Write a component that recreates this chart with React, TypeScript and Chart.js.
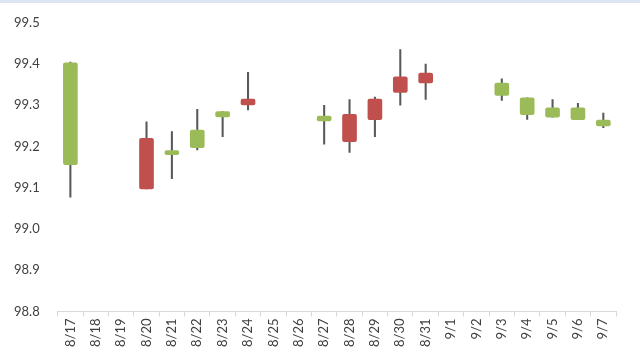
import React, { useEffect, useRef } from "react";
import { Chart, registerables } from "chart.js";

Chart.register(...registerables);

const categories = [
  "8/17", "8/18", "8/19", "8/20", "8/21", "8/22", "8/23", "8/24", "8/25", "8/26",
  "8/27", "8/28", "8/29", "8/30", "8/31", "9/1", "9/2", "9/3", "9/4", "9/5", "9/6", "9/7",
];
const openValues: (number | null)[] = [
  99.156, null, null, 99.22, 99.18, 99.197, 99.272, 99.315, null, null,
  99.262, 99.278, 99.315, 99.369, 99.378, null, null, 99.324, 99.277, 99.271, 99.265, 99.25,
];
const closeValues: (number | null)[] = [
  99.403, null, null, 99.097, 99.19, 99.24, 99.285, 99.301, null, null,
  99.274, 99.212, 99.265, 99.331, 99.354, null, null, 99.354, 99.318, 99.294, 99.294, 99.264,
];
const highValues: (number | null)[] = [
  99.405, null, null, 99.26, 99.236, 99.29, 99.285, 99.38, null, null,
  99.3, 99.314, 99.32, 99.435, 99.4, null, null, 99.364, 99.318, 99.314, 99.305, 99.281,
];
const lowValues: (number | null)[] = [
  99.077, null, null, 99.097, 99.122, 99.192, 99.224, 99.289, null, null,
  99.206, 99.186, 99.224, 99.3, 99.314, null, null, 99.312, 99.266, 99.271, 99.265, 99.246,
];
const yMin = 98.8;
const yMax = 99.5;
const yStep = 0.1;

const UP = "#9BBB59";
const DOWN = "#C0504D";

export default function App() {
  const ref = useRef<HTMLCanvasElement | null>(null);
  useEffect(() => {
    if (!ref.current) return;
    const bodies = categories.map((_, i) =>
      openValues[i] == null ? null : [openValues[i] as number, closeValues[i] as number]
    );
    const wicks = categories.map((_, i) =>
      highValues[i] == null ? null : [lowValues[i] as number, highValues[i] as number]
    );
    const colors = categories.map((_, i) =>
      openValues[i] != null && (closeValues[i] as number) >= (openValues[i] as number) ? UP : DOWN
    );
    const chart = new Chart(ref.current, {
      type: "bar",
      data: {
        labels: categories,
        datasets: [
          {
            data: bodies as any,
            backgroundColor: colors,
            borderColor: colors,
            borderWidth: 0,
            borderRadius: 2,
            borderSkipped: false,
            barThickness: 14,
            grouped: false,
            order: 0,
          },
          {
            data: wicks as any,
            backgroundColor: "#595959",
            borderWidth: 0,
            barThickness: 1.4,
            grouped: false,
            order: 1,
          },
        ],
      },
      options: {
        animation: false,
        responsive: false,
        maintainAspectRatio: false,
        layout: { padding: { left: 4, right: 24, top: 6, bottom: 4 } },
        plugins: { legend: { display: false }, tooltip: { enabled: false } },
        scales: {
          x: {
            offset: true,
            grid: {
              display: true,
              offset: true,
              drawOnChartArea: false,
              drawTicks: true,
              tickLength: 5,
              color: "#d9d9d9",
            },
            border: { display: true, color: "#d9d9d9" },
            ticks: {
              minRotation: 90,
              maxRotation: 90,
              autoSkip: false,
              padding: 2,
              color: "#404040",
              font: { family: "Lato", size: 13 },
            },
          },
          y: {
            min: yMin,
            max: yMax,
            grid: { display: false, drawTicks: false },
            border: { display: false },
            ticks: {
              stepSize: yStep,
              padding: 18,
              color: "#404040",
              font: { family: "Lato", size: 13 },
              callback: (v: any) => Number(v).toFixed(1),
            },
          },
        },
      },
    });
    return () => chart.destroy();
  }, []);
  return (
    <div style={{ position: "fixed", left: 0, top: 0, width: 640, height: 353, background: "#fff", overflow: "hidden" }}>
      <canvas ref={ref} width={648} height={356} style={{ position: "absolute", left: -8, top: -3 }} />
      <div style={{ position: "absolute", left: 0, top: 0, width: 640, height: 3, background: "#dce6f2" }} />
    </div>
  );
}
